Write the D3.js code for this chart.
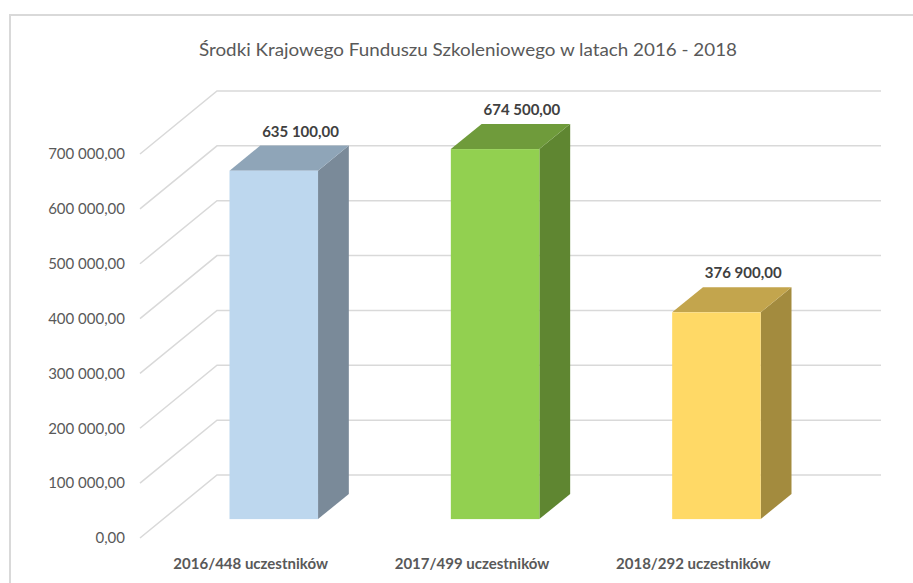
<!DOCTYPE html>
<html>
<head>
<meta charset="utf-8">
<script src="https://cdn.jsdelivr.net/npm/d3@7"></script>
<style>
  body { margin: 0; background: #fff; }
  text { font-family: Lato, "Open Sans", sans-serif; }
</style>
</head>
<body>
<div id="chart"></div>
<script>
// data
var categories = ["2016/448 uczestników", "2017/499 uczestników", "2018/292 uczestników"];
var values = [635100, 674500, 376900];
var yTicks = [0, 100000, 200000, 300000, 400000, 500000, 600000, 700000];
var frontColors = ["#BDD7EE", "#92D050", "#FFD966"];
var topColors = ["#8FA5B8", "#6F9B3B", "#C3A54D"];
var sideColors = ["#7A8A99", "#5F8631", "#A38B3E"];
var title = "Środki Krajowego Funduszu Szkoleniowego w latach 2016 - 2018";

var width = 913, height = 583;

// depth of the floor (front -> back wall)
var depthX = 77, depthY = -63;
// bars sit between these depth fractions
var zFront = 0.3, zBack = 0.7;

var plFormat = d3.formatLocale({ decimal: ",", thousands: " ", grouping: [3], currency: ["", ""] }).format(",.2f");

var svg = d3.select("#chart")
  .append("svg")
  .attr("width", width)
  .attr("height", height);

// chart border
svg.append("rect")
  .attr("x", 10)
  .attr("y", 15)
  .attr("width", 950)
  .attr("height", 620)
  .attr("fill", "#fff")
  .attr("stroke", "#D9D9D9")
  .attr("stroke-width", 2);

// scales on the front plane of the floor
var x = d3.scaleBand()
  .domain(categories)
  .range([140, 804])
  .paddingInner(0.6)
  .paddingOuter(0.3);

var y = d3.scaleLinear()
  .domain([0, 700000])
  .range([538, 154]);

// title
svg.append("text")
  .attr("x", 468)
  .attr("y", 56)
  .attr("text-anchor", "middle")
  .attr("fill", "#595959")
  .attr("font-size", 18)
  .attr("textLength", 538)
  .attr("lengthAdjust", "spacingAndGlyphs")
  .text(title);

// gridlines: diagonal on the side wall, then horizontal on the back wall
var grid = svg.append("g").attr("id", "grid");
grid.selectAll("path")
  .data(yTicks)
  .enter()
  .append("path")
    .attr("d", function (d) {
      var y0 = y(d);
      return "M140," + y0 + "L" + (140 + depthX) + "," + (y0 + depthY) + "L881," + (y0 + depthY);
    })
    .attr("fill", "none")
    .attr("stroke", "#D9D9D9")
    .attr("stroke-width", 1.5);

// y axis labels
svg.append("g")
  .selectAll("text")
  .data(yTicks)
  .enter()
  .append("text")
    .attr("x", 125)
    .attr("y", function (d) { return y(d); })
    .attr("dy", "0.35em")
    .attr("text-anchor", "end")
    .attr("fill", "#595959")
    .attr("font-size", 15)
    .text(function (d) { return plFormat(d); });

// bars
var dx = depthX * (zBack - zFront), dy = depthY * (zBack - zFront);
var offX = depthX * zFront, offY = depthY * zFront;

var bars = svg.append("g").attr("id", "bars")
  .selectAll("g")
  .data(values)
  .enter()
  .append("g");

function pts(arr) {
  return arr.map(function (p) { return p.join(","); }).join(" ");
}

bars.each(function (d, i) {
  var g = d3.select(this);
  var x0 = x(categories[i]) + offX;
  var x1 = x0 + x.bandwidth();
  var yT = y(d) + offY;
  var yB = y(0) + offY;

  g.append("polygon")
    .attr("points", pts([[x1, yT], [x1 + dx, yT + dy], [x1 + dx, yB + dy], [x1, yB]]))
    .attr("fill", sideColors[i]);
  g.append("polygon")
    .attr("points", pts([[x0, yT], [x0 + dx, yT + dy], [x1 + dx, yT + dy], [x1, yT]]))
    .attr("fill", topColors[i]);
  g.append("rect")
    .attr("x", x0)
    .attr("y", yT)
    .attr("width", x.bandwidth())
    .attr("height", yB - yT)
    .attr("fill", frontColors[i]);

  // value label above the top face
  g.append("text")
    .attr("x", (x0 + x1) / 2 + dx - 4)
    .attr("y", yT + dy - 9)
    .attr("text-anchor", "middle")
    .attr("fill", "#404040")
    .attr("font-size", 15)
    .attr("font-weight", "bold")
    .text(plFormat(d));
});

// category labels on the front edge
svg.append("g")
  .selectAll("text")
  .data(categories)
  .enter()
  .append("text")
    .attr("x", function (d) { return x(d) + x.bandwidth() / 2; })
    .attr("y", 569)
    .attr("text-anchor", "middle")
    .attr("fill", "#595959")
    .attr("font-size", 15)
    .attr("font-weight", "bold")
    .text(function (d) { return d; });
</script>
</body>
</html>
